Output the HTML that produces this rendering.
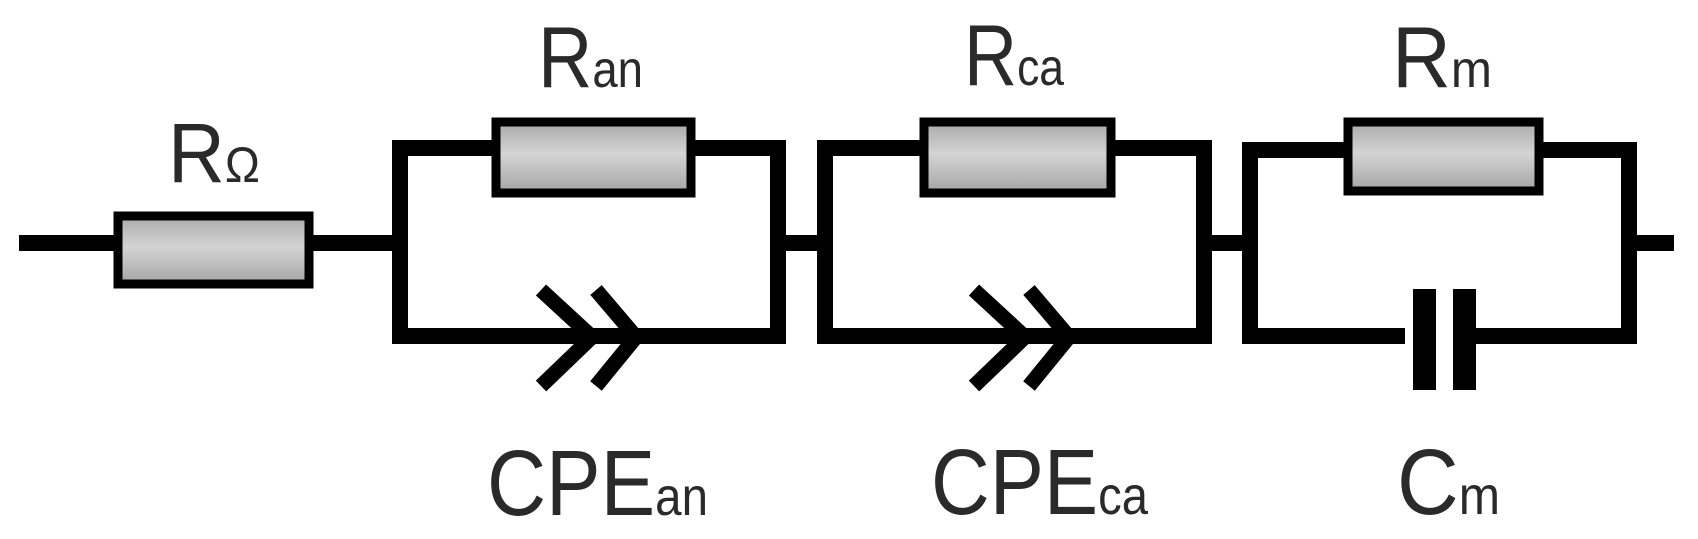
<!DOCTYPE html>
<html><head><meta charset="utf-8"><style>
html,body{margin:0;padding:0;background:#fff;width:1698px;height:539px;overflow:hidden}
svg{display:block}
text{font-family:"Liberation Sans",sans-serif;fill:#2a2a2a}
</style></head><body>
<svg width="1698" height="539" viewBox="0 0 1698 539" xmlns="http://www.w3.org/2000/svg">
<defs>
<linearGradient id="g" x1="0" y1="0" x2="0" y2="1">
<stop offset="0" stop-color="#a9a9a9"/><stop offset="0.45" stop-color="#d4d4d4"/><stop offset="1" stop-color="#a4a4a4"/>
</linearGradient>
</defs>
<g stroke="#000" stroke-width="16" fill="none" stroke-linecap="butt">
<line x1="19" y1="243" x2="400" y2="243"/>
<line x1="778" y1="243" x2="825" y2="243"/>
<line x1="1204" y1="243" x2="1250" y2="243"/>
<line x1="1629" y1="243" x2="1674" y2="243"/>
<path d="M400 148 H778 V336 H400 Z"/>
<path d="M825 148 H1204 V336 H825 Z"/>
<path d="M1250 150 H1629 V336 H1250 Z"/>
<path d="M541 290 L592 337 L541 386" stroke-width="15"/>
<path d="M596 290 L636 337 L596 386" stroke-width="15"/>
<path d="M974 290 L1025 337 L974 386" stroke-width="15"/>
<path d="M1029 290 L1069 337 L1029 386" stroke-width="15"/>
</g>
<rect x="1405" y="320" width="70" height="32" fill="#fff"/>
<rect x="1413" y="289" width="23" height="101" fill="#000"/>
<rect x="1453" y="289" width="23" height="101" fill="#000"/>
<g fill="url(#g)" stroke="#000" stroke-width="9">
<rect x="118" y="216" width="191" height="68"/>
<rect x="496" y="122" width="195" height="71"/>
<rect x="924" y="122" width="187" height="71"/>
<rect x="1348" y="122" width="191" height="69"/>
</g>
<text x="168" y="182" font-size="84" textLength="92" lengthAdjust="spacingAndGlyphs">R<tspan font-size="50">Ω</tspan></text>
<text x="538" y="87" font-size="86" textLength="105" lengthAdjust="spacingAndGlyphs">R<tspan font-size="52">an</tspan></text>
<text x="964" y="85" font-size="86" textLength="100" lengthAdjust="spacingAndGlyphs">R<tspan font-size="52">ca</tspan></text>
<text x="1392" y="87" font-size="86" textLength="100" lengthAdjust="spacingAndGlyphs">R<tspan font-size="52">m</tspan></text>
<text x="487" y="515" font-size="93" textLength="221" lengthAdjust="spacingAndGlyphs">CPE<tspan font-size="54">an</tspan></text>
<text x="931" y="514" font-size="93" textLength="217" lengthAdjust="spacingAndGlyphs">CPE<tspan font-size="54">ca</tspan></text>
<text x="1397" y="514" font-size="93" textLength="103" lengthAdjust="spacingAndGlyphs">C<tspan font-size="54">m</tspan></text>
</svg>
</body></html>
